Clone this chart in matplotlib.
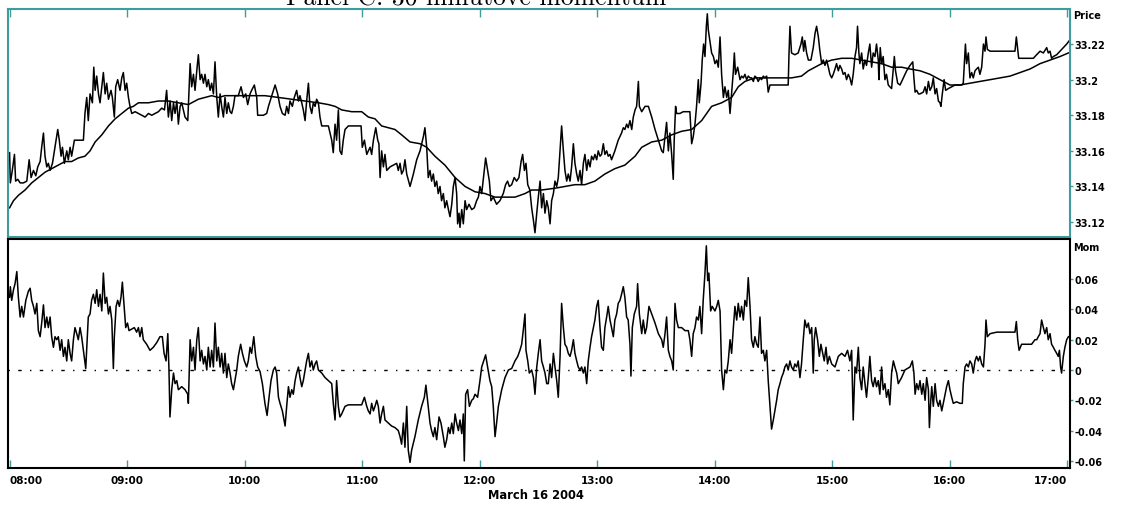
import matplotlib.pyplot as plt

# intraday prices, minutes after 08:00
price_t = [
    0.0, 0.4, 1.4, 2.5, 3.1, 4.2, 5.4, 7.1, 8.8, 10.0,
    11.0, 12.2, 13.4, 14.4, 15.6, 16.4, 17.3, 18.1, 19.0, 19.8,
    20.7, 21.9, 23.2, 24.6, 25.4, 26.3, 27.0, 28.0, 29.2, 30.0,
    30.9, 31.7, 33.1, 34.3, 36.0, 37.7, 38.5, 39.4, 40.2, 41.1,
    42.3, 43.0, 43.7, 44.5, 45.4, 46.2, 47.1, 47.9, 48.8, 49.6,
    50.5, 51.8, 52.5, 53.5, 54.2, 55.2, 56.4, 57.3, 58.1, 59.0,
    59.8, 60.7, 61.5, 62.4, 64.1, 65.8, 67.5, 69.2, 70.9, 72.6,
    74.3, 76.0, 77.7, 79.1, 80.2, 81.1, 82.0, 82.8, 83.7, 84.5,
    85.4, 86.2, 87.1, 87.9, 89.6, 91.0,
    92.2, 93.0, 93.9, 94.7, 95.6, 96.4, 97.3, 98.1, 99.0, 99.8,
    100.7, 101.5, 102.4, 103.2, 104.1, 104.9, 105.8, 106.6, 107.5, 108.3,
    109.2, 110.0, 110.9, 111.7, 112.6, 113.4, 114.3, 115.1, 116.8, 118.2,
    119.4, 120.6, 121.6, 122.8, 123.6, 125.0, 126.2, 126.7, 127.9, 129.6,
    131.3, 132.2, 133.9, 135.6, 136.9, 138.1, 139.3, 140.7, 141.5, 142.4,
    143.2, 144.4, 145.4, 146.6, 147.5, 148.3, 149.2, 150.0, 150.9, 151.7,
    152.6, 153.4, 154.3, 155.1, 156.0, 156.8, 157.7, 158.5, 159.4, 161.1,
    162.8, 164.5, 165.3, 166.2, 167.0, 167.9, 168.7, 169.6, 170.4, 171.3,
    173.0, 174.7, 176.4, 178.1, 179.5, 180.1, 181.2, 182.4, 183.2,
    184.1, 184.9, 185.8, 187.0, 188.0, 188.6, 189.2, 190.0, 190.9, 191.7,
    192.6, 194.3, 196.0, 197.7, 198.5, 199.4, 200.2, 201.1, 201.9, 202.8,
    204.5, 206.2, 207.9, 209.6, 211.3, 212.1, 213.0, 213.8, 214.7, 215.5,
    216.4, 217.2, 218.1, 218.9, 219.8, 220.6, 221.5, 222.3, 223.2, 224.1,
    224.9, 225.8, 226.6, 227.5, 228.3, 228.8, 229.5, 230.0, 230.9, 231.7,
    232.6, 233.4, 234.6, 236.0, 237.3, 238.5, 239.4, 240.2, 241.1, 242.4,
    243.1, 244.1, 245.0, 245.8, 247.0, 248.7, 250.4, 252.1, 253.3, 254.3,
    255.2, 256.4, 257.7, 258.9, 260.1, 261.2, 262.0, 262.9, 263.7, 264.6,
    265.7, 266.6, 267.5, 268.3, 269.2, 270.0, 270.9, 271.7, 272.6, 273.4,
    274.3,
    275.1, 276.0, 276.8, 277.7, 278.5, 279.4, 280.2, 281.1, 281.9, 282.8,
    283.6, 284.5, 285.3, 286.2, 287.0, 287.9, 288.7, 289.6, 290.4, 291.3,
    292.1, 293.0, 293.8, 294.7, 295.5, 296.4, 297.2, 298.1, 298.9, 299.8,
    300.6, 301.5, 302.3, 303.2, 304.0, 304.9, 305.7, 306.6, 307.4, 309.1,
    310.8, 312.5, 313.4, 314.2, 315.1, 315.9, 316.8, 317.7, 318.5, 319.4,
    320.2, 321.1, 321.6, 322.8, 324.5, 326.2, 327.9, 329.6, 331.3, 333.0,
    333.8, 334.7, 335.5, 336.4, 337.2, 338.1, 338.9, 339.4, 340.1, 340.6,
    342.3, 344.0, 345.7, 347.4, 348.3, 349.1, 350.0, 350.8, 351.7, 352.2,
    353.1, 353.7, 354.4, 355.1, 355.8, 356.3, 356.8, 357.6, 358.5, 359.4,
    360.2, 361.1, 361.9, 362.8, 363.6, 364.5, 365.3, 366.2,
    367.0, 367.9, 368.7, 369.6, 370.1, 370.7, 371.8, 373.0, 373.8, 374.7,
    375.5, 376.4, 377.2, 378.1, 378.9, 379.8, 380.6, 381.5, 382.3, 383.2,
    384.0, 384.9, 385.7, 386.6, 387.4, 388.3, 390.0, 392.5, 395.1, 397.6,
    398.0, 398.5, 399.3, 401.0, 402.7, 404.1, 404.8, 405.5, 406.1, 407.0,
    407.9, 409.2, 410.4, 411.3, 412.1, 413.0, 413.8, 414.7, 415.5, 416.4,
    417.2, 418.1, 418.9, 419.8, 420.6, 421.5, 422.3, 423.2, 424.0, 424.9,
    425.7, 426.6, 427.4, 428.3, 429.1, 430.0, 430.8, 431.7, 432.5, 433.0,
    433.7, 434.2, 435.1, 435.9, 436.8, 437.6, 438.5, 439.3, 440.2, 441.0,
    441.9, 442.7, 443.6, 443.9, 444.6, 445.3, 446.1, 447.0, 447.8, 448.7,
    449.5, 450.4, 451.3, 451.8, 452.4, 453.5, 454.7, 456.4, 458.1,
    459.8, 461.2, 461.8, 462.4, 463.2, 464.1, 464.9, 466.6, 467.5, 468.3,
    469.2, 470.0, 470.9, 471.7, 472.6, 473.4, 474.3, 475.1, 475.6, 476.3,
    477.2, 478.0, 479.4, 481.1, 482.8, 484.5, 486.2, 487.0, 487.5, 488.1,
    488.7, 489.6, 490.4, 491.3, 492.1, 493.0, 493.8, 494.7, 495.5, 496.4,
    497.3, 498.1, 498.6, 499.3, 500.7, 504.1, 507.5, 510.9, 513.4, 514.1,
    514.8, 515.3, 517.7, 520.2, 522.8, 523.6, 525.3, 526.2, 527.9, 529.6,
    530.4, 531.3, 532.1, 533.0, 534.7, 536.4, 538.1, 539.8, 541.2,
]
price = [
    33.159, 33.142, 33.149, 33.158, 33.143, 33.144, 33.142, 33.142, 33.143, 33.155,
    33.145, 33.149, 33.146, 33.151, 33.154, 33.162, 33.170, 33.157, 33.151, 33.153,
    33.149, 33.153, 33.162, 33.172, 33.166, 33.157, 33.162, 33.153, 33.160, 33.155,
    33.162, 33.157, 33.166, 33.166, 33.166, 33.166, 33.181, 33.190, 33.177, 33.192,
    33.187, 33.207, 33.194, 33.202, 33.192, 33.187, 33.196, 33.204, 33.192, 33.198,
    33.189, 33.194, 33.190, 33.179, 33.196, 33.200, 33.194, 33.201, 33.204, 33.194,
    33.198, 33.190, 33.185, 33.181, 33.182, 33.181, 33.180, 33.179, 33.181, 33.180,
    33.181, 33.182, 33.184, 33.183, 33.194, 33.179, 33.188, 33.177, 33.187, 33.181,
    33.188, 33.175, 33.185, 33.187, 33.179, 33.177,
    33.209, 33.196, 33.203, 33.194, 33.205, 33.214, 33.200, 33.203, 33.198, 33.203,
    33.196, 33.200, 33.194, 33.198, 33.192, 33.210, 33.190, 33.179, 33.192, 33.185,
    33.179, 33.190, 33.181, 33.187, 33.182, 33.181, 33.185, 33.191, 33.191, 33.196,
    33.190, 33.192, 33.186, 33.192, 33.194, 33.197, 33.190, 33.180, 33.180, 33.180,
    33.181, 33.185, 33.191, 33.197, 33.192, 33.185, 33.181, 33.180, 33.185, 33.181,
    33.188, 33.185, 33.190, 33.194, 33.188, 33.191, 33.187, 33.183, 33.177, 33.188,
    33.198, 33.185, 33.181, 33.187, 33.185, 33.189, 33.187, 33.179, 33.174, 33.174,
    33.174, 33.166, 33.159, 33.175, 33.166, 33.183, 33.160, 33.158, 33.166, 33.172,
    33.174, 33.174, 33.174, 33.174, 33.174, 33.162, 33.166, 33.158, 33.160,
    33.162, 33.158, 33.166, 33.173, 33.166, 33.164, 33.145, 33.160, 33.151, 33.158,
    33.149, 33.151, 33.152, 33.153, 33.149, 33.153, 33.147, 33.149, 33.155, 33.147,
    33.140, 33.147, 33.155, 33.160, 33.168, 33.173, 33.162, 33.145, 33.149, 33.143,
    33.147, 33.140, 33.143, 33.136, 33.140, 33.132, 33.136, 33.128, 33.132, 33.127,
    33.123, 33.130, 33.140, 33.145, 33.136, 33.119, 33.125, 33.117, 33.127, 33.119,
    33.132, 33.127, 33.130, 33.127, 33.128, 33.132, 33.134, 33.140, 33.136, 33.149,
    33.156, 33.149, 33.143, 33.132, 33.134, 33.130, 33.132, 33.136, 33.141, 33.143,
    33.140, 33.141, 33.145, 33.143, 33.145, 33.154, 33.158, 33.149, 33.153, 33.141,
    33.138, 33.128, 33.121, 33.114, 33.125, 33.134, 33.143, 33.128, 33.136, 33.125,
    33.132,
    33.128, 33.119, 33.132, 33.136, 33.143, 33.140, 33.145, 33.160, 33.174, 33.160,
    33.149, 33.143, 33.147, 33.143, 33.151, 33.164, 33.153, 33.147, 33.143, 33.149,
    33.141, 33.153, 33.158, 33.149, 33.155, 33.151, 33.157, 33.155, 33.158, 33.155,
    33.160, 33.157, 33.158, 33.164, 33.158, 33.160, 33.157, 33.158, 33.155, 33.160,
    33.166, 33.170, 33.173, 33.172, 33.175, 33.173, 33.177, 33.172, 33.179, 33.183,
    33.185, 33.199, 33.185, 33.182, 33.185, 33.185, 33.179, 33.172, 33.166, 33.160,
    33.159, 33.168, 33.176, 33.160, 33.170, 33.158, 33.144, 33.166, 33.185, 33.181,
    33.181, 33.182, 33.182, 33.182, 33.164, 33.168, 33.175, 33.185, 33.200, 33.187,
    33.198, 33.211, 33.220, 33.213, 33.230, 33.237, 33.228, 33.222, 33.215, 33.213,
    33.209, 33.211, 33.207, 33.224, 33.203, 33.190, 33.196, 33.190,
    33.194, 33.181, 33.192, 33.205, 33.215, 33.203, 33.207, 33.200, 33.202, 33.201,
    33.203, 33.200, 33.202, 33.201, 33.201, 33.199, 33.202, 33.201, 33.199, 33.201,
    33.200, 33.202, 33.201, 33.202, 33.193, 33.197, 33.197, 33.197, 33.197, 33.197,
    33.214, 33.230, 33.215, 33.214, 33.215, 33.220, 33.224, 33.216, 33.222, 33.215,
    33.211, 33.211, 33.218, 33.226, 33.230, 33.224, 33.216, 33.209, 33.211, 33.208,
    33.211, 33.207, 33.203, 33.201, 33.203, 33.206, 33.209, 33.205, 33.208, 33.206,
    33.203, 33.204, 33.200, 33.203, 33.201, 33.197, 33.203, 33.213, 33.218, 33.230,
    33.215, 33.209, 33.215, 33.206, 33.211, 33.208, 33.215, 33.220, 33.207, 33.215,
    33.213, 33.220, 33.211, 33.200, 33.218, 33.209, 33.213, 33.200, 33.203, 33.197,
    33.196, 33.195, 33.207, 33.213, 33.205, 33.198, 33.197, 33.201, 33.205,
    33.208, 33.210, 33.201, 33.193, 33.194, 33.192, 33.192, 33.193, 33.196, 33.192,
    33.199, 33.194, 33.196, 33.201, 33.192, 33.195, 33.188, 33.187, 33.185, 33.192,
    33.200, 33.194, 33.195, 33.196, 33.197, 33.197, 33.197, 33.198, 33.208, 33.220,
    33.209, 33.215, 33.201, 33.204, 33.201, 33.205, 33.206, 33.207, 33.203, 33.207,
    33.220, 33.216, 33.224, 33.217, 33.216, 33.216, 33.216, 33.216, 33.216, 33.224,
    33.217, 33.212, 33.212, 33.212, 33.212, 33.213, 33.215, 33.216, 33.215, 33.218,
    33.215, 33.216, 33.212, 33.213, 33.214, 33.216, 33.218, 33.220, 33.222,
]

# 30-minute moving average of the price
ma_t = [
    0.0, 2.0, 4.5, 7.9, 11.3, 14.7, 18.1, 21.5, 24.9, 28.3,
    31.7, 35.1, 38.5, 41.1, 43.7, 47.1, 50.5, 53.9, 57.3, 60.7,
    63.2, 65.8, 70.9, 76.0, 81.1, 86.2, 91.3,
    93.0, 96.4, 99.8, 103.2, 106.6, 110.0, 113.4, 116.8, 123.6, 130.4,
    137.3, 144.1, 150.9, 157.7, 162.8, 166.2, 169.6, 174.7, 179.8, 183.2,
    186.6, 190.0, 196.8, 200.2, 204.5, 209.6, 213.0, 217.2, 222.3, 227.5,
    232.6, 237.7, 242.8, 247.9, 253.0, 258.1, 263.2, 266.6, 271.7,
    278.5, 283.6, 288.7, 293.8, 298.9, 304.0, 309.1, 314.2, 319.4, 322.8,
    327.9, 333.0, 338.1, 343.2, 348.3, 353.4, 358.5, 363.6,
    368.7, 372.1, 375.5, 380.6, 385.7, 392.5, 399.3, 404.4, 407.9, 411.3,
    414.7, 419.8, 424.9, 430.0, 435.1, 440.2, 445.3, 450.4, 455.5,
    459.8, 464.9, 470.0, 475.1, 480.2, 485.3, 490.4, 495.5, 500.7, 505.8,
    510.9, 516.0, 521.1, 526.2, 531.3, 536.4, 540.7,
]
ma = [
    33.128, 33.132, 33.135, 33.138, 33.142, 33.145, 33.148, 33.150, 33.152, 33.154,
    33.154, 33.156, 33.157, 33.160, 33.165, 33.169, 33.174, 33.178, 33.181, 33.184,
    33.185, 33.187, 33.187, 33.188, 33.188, 33.187, 33.186,
    33.187, 33.189, 33.190, 33.191, 33.190, 33.191, 33.191, 33.191, 33.191, 33.191,
    33.190, 33.189, 33.188, 33.187, 33.186, 33.185, 33.183, 33.182, 33.182, 33.179,
    33.178, 33.174, 33.172, 33.169, 33.165, 33.164, 33.162, 33.157, 33.152, 33.145,
    33.140, 33.137, 33.136, 33.134, 33.134, 33.134, 33.136, 33.138, 33.138,
    33.139, 33.140, 33.141, 33.141, 33.143, 33.147, 33.150, 33.152, 33.157, 33.162,
    33.165, 33.166, 33.169, 33.171, 33.172, 33.177, 33.185, 33.187,
    33.190, 33.196, 33.199, 33.201, 33.201, 33.201, 33.201, 33.202, 33.205, 33.207,
    33.209, 33.211, 33.212, 33.212, 33.211, 33.210, 33.209, 33.207, 33.207,
    33.206, 33.205, 33.203, 33.200, 33.197, 33.197, 33.198, 33.199, 33.200, 33.201,
    33.202, 33.204, 33.206, 33.209, 33.211, 33.213, 33.215,
]

# 30-minute momentum
mom_t = [
    0.0, 0.4, 1.1, 2.0, 2.8, 3.7, 4.5, 5.4, 6.2, 7.1,
    8.3, 9.6, 10.5, 11.3, 12.2, 13.0, 13.9, 14.7, 15.6, 16.4,
    17.3, 18.1, 19.0, 19.8, 20.7, 21.5, 22.4, 23.2, 24.1, 24.9,
    25.8, 26.6, 27.5, 28.3, 29.2, 30.0, 30.9, 31.7, 32.6, 33.4,
    34.3, 35.1, 36.0, 36.8, 37.7, 38.9, 39.6, 40.2, 41.1, 41.9,
    42.8, 43.7, 44.5, 45.4, 46.2, 47.1, 47.9, 48.8, 49.6, 50.5,
    51.3, 52.2, 53.0, 53.5, 54.4, 55.2, 56.1, 56.9, 57.6, 58.5,
    59.3, 60.2, 61.0, 62.4, 63.7, 64.9, 65.8, 66.6, 67.5, 68.3,
    70.0, 71.7, 73.4, 75.1, 76.8, 78.0, 78.9, 79.9, 80.8, 81.4,
    81.9, 82.8, 83.7, 84.5, 85.4, 86.2, 87.9, 89.6, 91.0,
    91.3, 92.2, 93.0, 93.9, 94.7, 95.6, 96.4, 97.3, 98.1, 99.0,
    99.8, 100.7, 101.5, 102.4, 103.2, 104.1, 104.9, 105.8, 106.6, 107.5,
    108.3, 109.2, 110.0, 110.9, 111.7, 112.6, 113.4, 114.3, 115.1, 116.0,
    116.8, 118.0, 118.9, 119.9, 121.1, 121.9, 122.8, 123.6, 124.7, 125.7,
    126.7, 127.9, 129.1, 130.4, 131.5, 132.5, 133.5, 134.7, 135.6, 136.4,
    137.3, 138.1, 139.3, 140.7, 141.5, 142.4, 143.2, 144.1, 144.9, 145.8,
    146.6, 147.5, 148.3, 149.2, 150.0, 150.9, 151.7, 152.6, 153.4, 154.3,
    155.1, 156.0, 156.8, 157.7, 159.4, 161.1, 162.8, 164.5, 165.3, 166.2,
    167.0, 167.9, 168.7, 169.6, 171.3, 173.0, 174.7, 176.4, 178.1, 179.8,
    181.2, 182.4, 183.2,
    184.1, 184.9, 185.8, 186.6, 187.5, 188.3, 189.2, 190.0, 190.9, 191.7,
    193.4, 195.1, 196.8, 198.5, 199.4, 200.2, 201.1, 201.9, 202.8, 203.6,
    204.5, 205.3, 207.0, 208.7, 210.4, 211.8, 212.6, 213.8, 214.7, 215.5,
    216.4, 217.2, 218.1, 219.3, 220.3, 221.5, 222.3, 223.2, 224.1, 224.9,
    225.8, 226.6, 227.5, 228.3, 229.2, 230.0, 230.9, 231.7, 232.2, 232.9,
    233.9, 234.8, 236.0, 236.8, 237.7, 239.0, 240.2, 241.1, 242.1, 243.1,
    244.1, 245.3, 246.2, 247.0, 247.9, 248.7, 249.6, 251.3, 253.0, 254.7,
    256.4, 258.1, 259.5, 260.6, 261.5, 262.3, 263.2, 263.7, 264.6, 265.4,
    266.6, 267.5, 268.3, 269.2, 270.0, 270.9, 271.7, 272.6, 273.4, 274.3,
    275.1, 276.0, 276.8, 277.7, 278.5, 279.4, 280.2, 281.1, 281.9, 282.8,
    283.6, 284.5, 285.3, 286.2, 287.0, 287.9, 288.7, 289.6, 290.4, 291.3,
    292.1, 293.0, 293.8, 294.7, 295.5, 296.4, 297.2, 298.1, 298.9, 299.8,
    300.6, 301.5, 302.3, 303.2, 304.0, 304.9, 305.7, 306.6, 307.4, 308.3,
    309.1, 310.0, 310.8, 311.7, 312.5, 313.4, 314.2, 315.1, 315.9, 316.8,
    317.3, 318.0, 319.0, 320.2, 320.7, 321.6, 322.8, 323.6, 324.5, 325.3,
    326.5, 327.9, 329.6, 331.3, 333.0, 333.8, 334.7, 335.5, 336.4, 337.2,
    338.1, 338.9, 339.8, 340.6, 341.5, 343.2, 344.9, 346.6, 347.4, 348.3,
    349.1, 350.0, 350.8, 351.7, 352.5, 353.4, 354.2, 355.1, 355.8, 356.5,
    357.1, 358.0, 358.8, 360.2, 361.1, 361.9, 362.8, 363.6, 364.5, 365.3,
    366.2,
    367.0, 367.9, 368.7, 369.6, 370.4, 371.3, 372.1, 373.0, 373.8, 374.7,
    375.5, 376.4, 377.2, 378.1, 378.9, 379.8, 380.6, 381.5, 382.3, 383.2,
    384.0, 384.9, 385.7, 386.6, 387.4, 388.3, 389.1, 390.0, 390.8, 391.7,
    392.5, 393.4, 394.2, 395.1, 395.9, 396.8, 397.6, 398.5, 399.3, 400.2,
    401.0, 401.9, 402.7, 403.6, 404.4, 405.3, 406.1, 407.0, 407.9, 408.7,
    409.6, 410.4, 410.9, 411.6, 412.6, 413.5, 414.3, 415.2, 416.0, 416.9,
    417.7, 418.6, 419.8, 421.5, 423.2, 424.9, 426.6, 427.9, 429.1, 430.0,
    430.8, 431.7, 432.5, 433.4, 434.2, 435.1, 435.9, 436.8, 437.6, 438.5,
    439.3, 440.2, 441.0, 441.9, 442.7, 443.6, 444.4, 445.3, 446.1, 447.0,
    447.8, 448.7, 449.5, 450.4, 451.3, 452.1, 453.0, 453.8, 455.5, 457.2,
    459.8, 461.0, 461.8, 462.4, 463.2, 464.1, 464.9, 465.8, 466.6, 467.5,
    468.3, 469.2, 469.7, 470.4, 470.9, 471.7, 472.6, 473.4, 474.3, 475.1,
    476.0, 476.8, 477.7, 478.5, 479.4, 480.2, 481.1, 481.9, 483.6, 485.3,
    486.5, 487.0, 487.9, 488.7, 489.6, 490.4, 491.3, 492.1, 493.0, 493.8,
    494.7, 495.5, 496.4, 497.3, 498.1, 498.6, 499.3, 500.7, 504.1, 507.5,
    510.9, 513.4, 514.1, 514.8, 515.5, 516.8, 519.4, 521.9, 523.6, 524.5,
    525.3, 526.2, 527.0, 527.9, 528.7, 529.6, 530.4, 531.3, 532.1, 533.0,
    533.8, 534.7, 535.5, 536.1, 536.7, 537.2, 538.1, 538.9, 539.8, 540.7,
]
mom = [
    0.048, 0.055, 0.046, 0.053, 0.057, 0.065, 0.048, 0.035, 0.042, 0.035,
    0.046, 0.052, 0.054, 0.046, 0.042, 0.037, 0.044, 0.026, 0.022, 0.031,
    0.043, 0.028, 0.035, 0.028, 0.035, 0.022, 0.015, 0.022, 0.020, 0.022,
    0.013, 0.020, 0.009, 0.015, 0.006, 0.020, 0.011, 0.006, 0.020, 0.028,
    0.024, 0.020, 0.028, 0.022, 0.013, 0.001, 0.020, 0.035, 0.037, 0.046,
    0.050, 0.044, 0.053, 0.042, 0.050, 0.039, 0.064, 0.044, 0.048, 0.037,
    0.042, 0.033, 0.001, 0.022, 0.042, 0.046, 0.042, 0.048, 0.058, 0.042,
    0.028, 0.031, 0.026, 0.027, 0.028, 0.025, 0.028, 0.022, 0.028, 0.020,
    0.017, 0.013, 0.015, 0.018, 0.022, 0.022, 0.011, 0.006, 0.024, 0.000,
    -0.031, -0.013, -0.002, -0.009, -0.007, -0.013, -0.011, -0.013, -0.016,
    -0.022, 0.020, 0.006, 0.015, 0.000, 0.020, 0.028, 0.006, 0.013, 0.004,
    0.009, 0.000, 0.015, 0.002, 0.013, 0.002, 0.031, 0.006, 0.015, 0.002,
    0.011, -0.002, 0.011, -0.005, 0.004, -0.002, -0.009, -0.013, -0.007, 0.000,
    0.009, 0.017, 0.011, 0.006, 0.002, 0.006, 0.015, 0.011, 0.022, 0.009,
    0.002, -0.001, -0.009, -0.022, -0.030, -0.018, -0.007, 0.000, 0.002, -0.002,
    -0.018, -0.022, -0.027, -0.037, -0.024, -0.011, -0.018, -0.013, -0.016, -0.007,
    -0.002, 0.002, -0.005, -0.011, -0.007, 0.000, 0.006, 0.011, 0.002, 0.006,
    0.000, 0.004, 0.006, 0.000, -0.002, -0.005, -0.007, -0.009, -0.022, -0.033,
    -0.007, -0.024, -0.031, -0.029, -0.024, -0.023, -0.023, -0.023, -0.023, -0.023,
    -0.018, -0.024, -0.027,
    -0.029, -0.022, -0.027, -0.024, -0.020, -0.024, -0.035, -0.029, -0.024, -0.033,
    -0.035, -0.037, -0.038, -0.040, -0.044, -0.049, -0.035, -0.051, -0.024, -0.053,
    -0.061, -0.053, -0.044, -0.033, -0.024, -0.018, -0.010, -0.024, -0.035, -0.040,
    -0.044, -0.038, -0.046, -0.031, -0.035, -0.044, -0.051, -0.046, -0.038, -0.042,
    -0.035, -0.042, -0.029, -0.035, -0.040, -0.033, -0.042, -0.029, -0.060, -0.016,
    -0.013, -0.024, -0.020, -0.019, -0.016, -0.018, -0.007, 0.002, 0.006, 0.010,
    0.002, -0.007, -0.011, -0.024, -0.044, -0.035, -0.024, -0.013, -0.005, 0.000,
    0.001, 0.006, 0.009, 0.013, 0.017, 0.026, 0.037, 0.013, 0.006, -0.002,
    0.000, -0.005, -0.016, 0.002, 0.011, 0.020, 0.006, 0.002, -0.002, -0.009,
    -0.009, 0.004, -0.005, 0.011, 0.002, -0.007, -0.018, 0.009, 0.044, 0.028,
    0.017, 0.015, 0.011, 0.009, 0.013, 0.020, 0.011, 0.006, 0.002, 0.000,
    0.002, -0.002, 0.002, -0.009, 0.006, 0.015, 0.022, 0.028, 0.033, 0.042,
    0.046, 0.028, 0.015, 0.013, 0.028, 0.035, 0.042, 0.033, 0.028, 0.022,
    0.033, 0.037, 0.044, 0.046, 0.050, 0.055, 0.048, 0.035, 0.033, 0.017,
    -0.004, 0.028, 0.037, 0.042, 0.057, 0.037, 0.024, 0.033, 0.024, 0.028,
    0.042, 0.037, 0.031, 0.024, 0.020, 0.015, 0.024, 0.035, 0.013, 0.009,
    0.006, 0.000, 0.044, 0.033, 0.028, 0.028, 0.026, 0.026, 0.020, 0.009,
    0.024, 0.028, 0.035, 0.033, 0.042, 0.024, 0.046, 0.064, 0.082, 0.059,
    0.064, 0.039, 0.042, 0.039, 0.042, 0.046, 0.039, 0.000, -0.013, 0.000,
    -0.002,
    0.006, 0.020, 0.011, 0.028, 0.042, 0.033, 0.044, 0.035, 0.042, 0.033,
    0.046, 0.042, 0.061, 0.042, 0.020, 0.015, 0.022, 0.017, 0.015, 0.035,
    0.011, 0.013, 0.006, 0.013, -0.007, -0.024, -0.039, -0.033, -0.027, -0.020,
    -0.013, -0.009, -0.005, -0.002, 0.002, 0.004, 0.000, 0.006, 0.002, 0.000,
    0.004, 0.002, 0.006, -0.005, 0.004, 0.020, 0.033, 0.028, 0.031, 0.024,
    0.028, -0.002, 0.020, 0.028, 0.020, 0.009, 0.017, 0.011, 0.006, 0.015,
    0.004, 0.009, 0.004, 0.002, 0.009, 0.011, 0.009, 0.013, 0.006, 0.013,
    -0.033, 0.002, -0.002, 0.015, -0.005, -0.013, 0.002, -0.009, -0.018, -0.005,
    0.009, -0.007, -0.011, -0.005, -0.011, -0.007, -0.016, 0.002, -0.013, -0.009,
    -0.018, -0.013, -0.023, -0.002, 0.006, 0.002, -0.002, -0.009, -0.005, 0.000,
    0.002, 0.006, -0.002, -0.016, -0.009, -0.013, -0.007, -0.016, -0.009, -0.020,
    -0.005, -0.013, -0.038, -0.020, -0.011, -0.024, -0.009, -0.020, -0.024, -0.020,
    -0.027, -0.022, -0.016, -0.011, -0.007, -0.013, -0.018, -0.022, -0.021, -0.022,
    -0.022, -0.009, 0.002, 0.004, 0.002, 0.006, 0.004, -0.002, 0.006, 0.009,
    0.006, 0.009, 0.004, 0.002, 0.017, 0.033, 0.022, 0.024, 0.025, 0.025,
    0.025, 0.025, 0.032, 0.020, 0.013, 0.017, 0.017, 0.017, 0.020, 0.020,
    0.022, 0.024, 0.033, 0.028, 0.024, 0.028, 0.020, 0.024, 0.017, 0.015,
    0.013, 0.011, 0.009, 0.013, 0.002, -0.002, 0.009, 0.015, 0.020, 0.022,
]

hour_ticks = [0, 60, 120, 180, 240, 300, 360, 420, 480, 540]
hour_labels = ['08:00', '09:00', '10:00', '11:00', '12:00',
               '13:00', '14:00', '15:00', '16:00', '17:00']
price_ticks = [33.12, 33.14, 33.16, 33.18, 33.20, 33.22]
price_labels = ['33.12', '33.14', '33.16', '33.18', '33.2', '33.22']
mom_ticks = [-0.06, -0.04, -0.02, 0.0, 0.02, 0.04, 0.06]
mom_labels = ['-0.06', '-0.04', '-0.02', '0', '0.02', '0.04', '0.06']

teal = '#3f9c9c'
W, H = 1121, 506

fig = plt.figure(figsize=(W / 100, H / 100), dpi=100)
ax1 = fig.add_axes([8 / W, 1 - 238 / H, 1062 / W, 228 / H])
ax2 = fig.add_axes([8 / W, 1 - 469 / H, 1062 / W, 229 / H])

ax1.plot(price_t, price, color='black', lw=1.1)
ax1.plot(ma_t, ma, color='black', lw=1.1)
ax1.set_ylim(33.1116, 33.2397)

ax2.axhline(0, color='black', lw=1.0, ls=(0, (1, 6, 2.5, 6)))
ax2.plot(mom_t, mom, color='black', lw=1.1)
ax2.set_ylim(-0.0647, 0.0865)

tick_font = dict(family='DejaVu Sans', weight='bold', size=7)

for ax in (ax1, ax2):
    ax.set_xlim(-0.8, 541.5)
    ax.set_xticks(hour_ticks)
    ax.yaxis.tick_right()
    ax.tick_params(axis='y', direction='out', length=2, width=1,
                   color=teal, pad=1.5)

for sp in ax1.spines.values():
    sp.set_color(teal)
    sp.set_linewidth(1.5)
for sp in ax2.spines.values():
    sp.set_color('black')
    sp.set_linewidth(1.5)

ax1.tick_params(axis='x', bottom=False, top=True, direction='in',
                length=6, width=1, color=teal, labelbottom=False)
ax2.tick_params(axis='x', bottom=True, top=False, direction='in',
                length=6, width=1, color=teal, pad=5)

ax1.set_yticks(price_ticks)
ax1.set_yticklabels(price_labels, fontdict=tick_font)
ax2.set_yticks(mom_ticks)
ax2.set_yticklabels(mom_labels, fontdict=tick_font)

xl = ax2.set_xticklabels(hour_labels, fontdict=dict(tick_font, size=7.5))
xl[0].set_ha('left')
xl[-1].set_ha('right')

fig.text(1073 / W, 1 - 16 / H, 'Price', ha='left', va='center', **tick_font)
fig.text(1073 / W, 1 - 248 / H, 'Mom', ha='left', va='center', **tick_font)
fig.text(536 / W, 1 - 496 / H, 'March 16 2004', ha='center', va='center',
         family='DejaVu Sans', weight='bold', size=8.3)

fig.text(476 / W, 1 - 6 / H, 'Panel C: 30-minutove momentum',
         ha='center', va='baseline', family='cmr10', size=18.5)

fig.savefig('out.png', dpi=100)
